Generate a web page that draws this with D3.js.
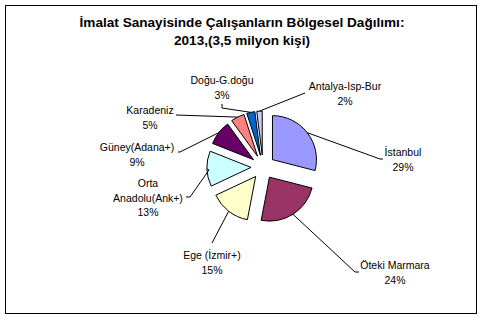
<!DOCTYPE html>
<html>
<head>
<meta charset="utf-8">
<script src="https://cdn.jsdelivr.net/npm/d3@7"></script>
<style>
  body { margin: 0; background: #fff; }
  svg { display: block; font-family: Arial, "Liberation Sans", sans-serif; }
</style>
</head>
<body>
<div id="chart"></div>
<script>
// data
var regions = ["İstanbul", "Öteki Marmara", "Ege (İzmir+)", "Orta Anadolu(Ank+)",
               "Güney(Adana+)", "Karadeniz", "Doğu-G.doğu", "Antalya-Isp-Bur"];
var shares = [29, 24, 15, 13, 9, 5, 3, 2];
var labelLines = [["İstanbul"], ["Öteki Marmara"], ["Ege (İzmir+)"], ["Orta", "Anadolu(Ank+)"],
                  ["Güney(Adana+)"], ["Karadeniz"], ["Doğu-G.doğu"], ["Antalya-Isp-Bur"]];
var colors = ["#9999ff", "#993366", "#ffffcc", "#ccffff", "#660066", "#ff8080", "#0066cc", "#ccccff"];

// label layout (center x, first baseline, leader-line bend points)
var labelPos = [
  {x: 403, y: 156, line: [[380, 159], [383, 159]]},
  {x: 395, y: 269, line: [[355, 272], [359, 272]]},
  {x: 212, y: 259, line: [[212, 243]]},
  {x: 148, y: 187, line: [[209, 170], [190, 197], [186, 197]]},
  {x: 137, y: 151, line: [[180, 152], [178, 152]]},
  {x: 150, y: 114, line: [[176, 115]]},
  {x: 222, y: 84,  line: [[222, 108], [222, 104]]},
  {x: 345, y: 90,  line: [[305, 93]]}
];

var width = 484, height = 320;
var cx = 263, cy = 167, radius = 44, explode = 12;

var svg = d3.select("#chart").append("svg")
    .attr("width", width)
    .attr("height", height);

svg.append("rect")
    .attr("x", 5.5).attr("y", 5.5)
    .attr("width", 471).attr("height", 308)
    .attr("fill", "#fff")
    .attr("stroke", "#000");

var title = svg.append("text")
    .attr("text-anchor", "middle")
    .attr("font-weight", "bold")
    .attr("font-size", "13.6px");
title.append("tspan").attr("x", 242).attr("y", 27).text("İmalat Sanayisinde Çalışanların Bölgesel Dağılımı:");
title.append("tspan").attr("x", 242).attr("y", 45).text("2013,(3,5 milyon kişi)");

var pie = d3.pie().sort(null).value(function(d) { return d; });
var arcs = pie(shares);
var arc = d3.arc().innerRadius(0).outerRadius(radius);

function offset(d, r) {
  var a = (d.startAngle + d.endAngle) / 2;
  return [Math.sin(a) * r, -Math.cos(a) * r];
}

var g = svg.append("g").attr("transform", "translate(" + cx + "," + cy + ")");

g.selectAll("path")
  .data(arcs)
  .enter().append("path")
    .attr("d", arc)
    .attr("transform", function(d) { var o = offset(d, explode); return "translate(" + o + ")"; })
    .attr("fill", function(d, i) { return colors[i]; })
    .attr("stroke", "#000")
    .attr("stroke-width", 1);

// leader lines
svg.selectAll("polyline")
  .data(arcs)
  .enter().append("polyline")
    .attr("points", function(d, i) {
      var o = offset(d, explode + radius);
      var pts = [[cx + o[0], cy + o[1]]].concat(labelPos[i].line);
      return pts.map(function(p) { return p.join(","); }).join(" ");
    })
    .attr("fill", "none")
    .attr("stroke", "#000")
    .attr("stroke-width", 1);

// labels
var labels = svg.selectAll("text.lbl")
  .data(arcs)
  .enter().append("text")
    .attr("class", "lbl")
    .attr("text-anchor", "middle")
    .attr("font-size", "10.5px")
    .attr("fill", "#000");

labels.each(function(d, i) {
  var t = d3.select(this);
  var lines = labelLines[i].concat([shares[i] + "%"]);
  lines.forEach(function(s, k) {
    t.append("tspan")
      .attr("x", labelPos[i].x)
      .attr("y", labelPos[i].y + k * 14.5)
      .text(s);
  });
});
</script>
</body>
</html>
